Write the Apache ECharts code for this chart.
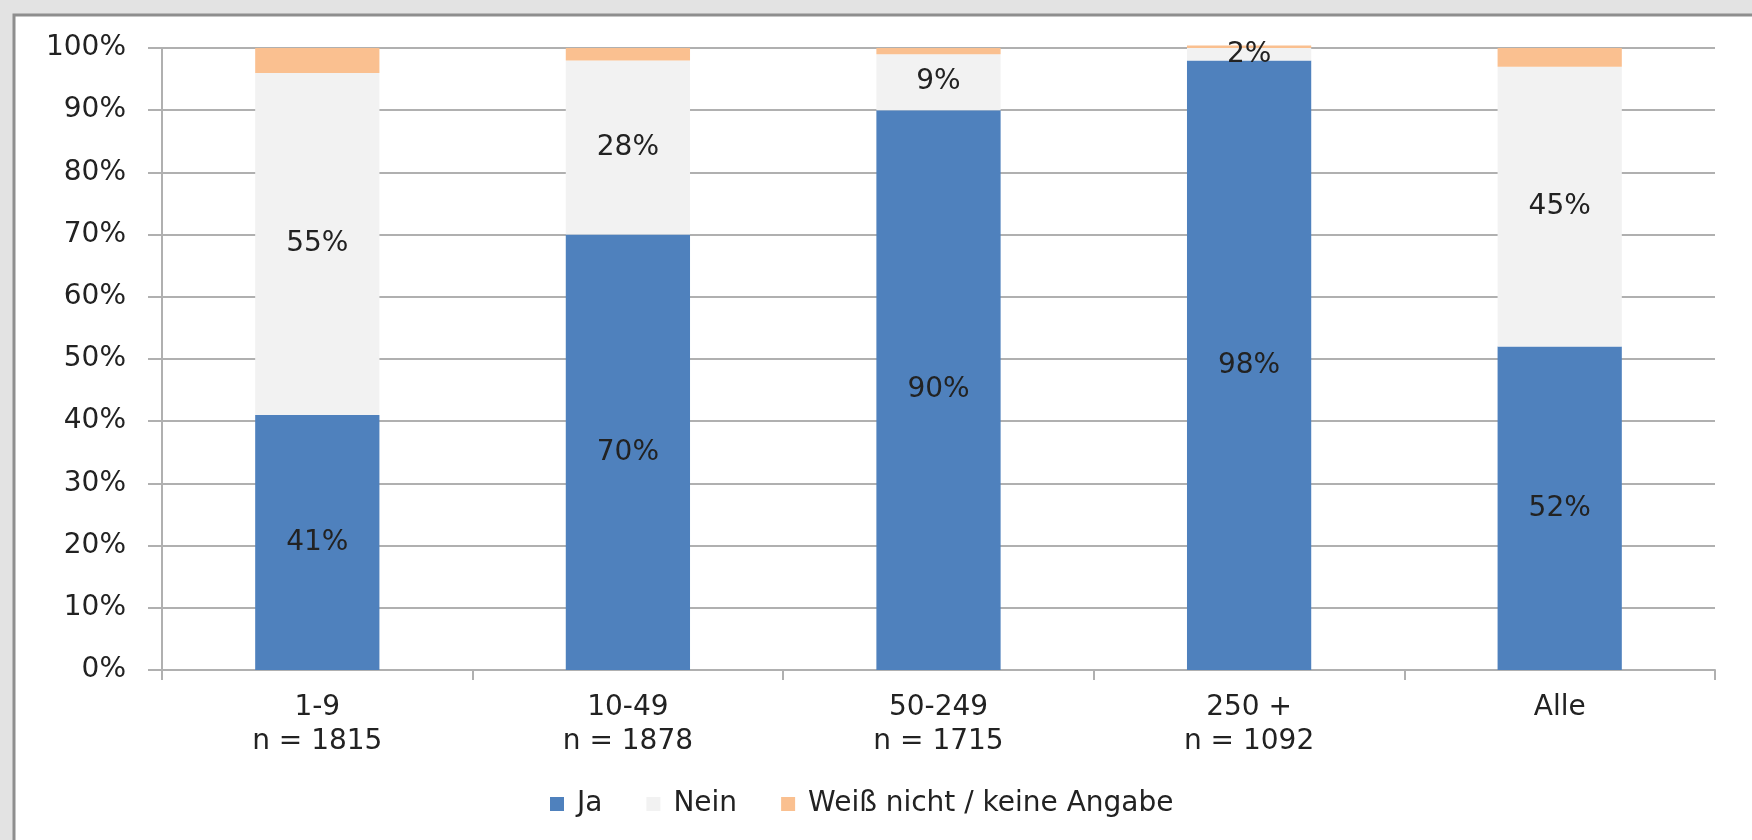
<!DOCTYPE html>
<html>
<head>
<meta charset="utf-8">
<script src="https://cdn.jsdelivr.net/npm/echarts@6/dist/echarts.min.js"></script>
<style>
  html, body { margin: 0; padding: 0; background: #e3e3e3; }
  #chart { width: 1752px; height: 840px; }
</style>
</head>
<body>
<div id="chart"></div>
<script>
// Company size classes and their sample sizes
const categories = ['1-9', '10-49', '50-249', '250 +', 'Alle'];
const sampleSizes = [1815, 1878, 1715, 1092, null];

// Answer shares in percent
const ja = [41, 70, 90, 98, 52];
const nein = [55, 28, 9, 2, 45];
const unbekannt = [4, 2, 1, 0.4, 3];

// Axis ticks
const yTicks = [0, 10, 20, 30, 40, 50, 60, 70, 80, 90, 100];

const FONT = 'DejaVu Sans';
const FONT_SIZE = 28;
const TEXT = '#222222';
const GRID = '#b0b0b0';

const chart = echarts.init(document.getElementById('chart'), null, { renderer: 'canvas' });

const axisLabels = categories.map((c, i) =>
  sampleSizes[i] != null ? c + '\nn = ' + sampleSizes[i] : c);

function labelFor(show) {
  return {
    show: show,
    position: 'inside',
    color: TEXT,
    fontFamily: FONT,
    fontSize: FONT_SIZE,
    formatter: p => p.value + '%'
  };
}

chart.setOption({
  backgroundColor: '#e3e3e3',
  animation: false,
  graphic: [{
    type: 'rect',
    z: -10,
    silent: true,
    shape: { x: 14, y: 15, width: 1760, height: 840 },
    style: { fill: '#ffffff', stroke: '#8e8e8e', lineWidth: 3 }
  }],
  grid: { left: 162, right: 37, top: 48, bottom: 170, containLabel: false },
  legend: {
    left: 545,
    top: 785,
    itemWidth: 14,
    itemHeight: 14,
    itemGap: 44,
    icon: 'rect',
    textStyle: { color: TEXT, fontFamily: FONT, fontSize: FONT_SIZE, padding: [0, 0, 0, 8] },
    data: ['Ja', 'Nein', 'Weiß nicht / keine Angabe']
  },
  xAxis: {
    type: 'category',
    data: axisLabels,
    axisLine: { lineStyle: { color: GRID, width: 2 } },
    axisTick: { show: true, length: 10, lineStyle: { color: GRID, width: 2 } },
    axisLabel: {
      color: TEXT, fontFamily: FONT, fontSize: FONT_SIZE, lineHeight: 34, margin: 21
    }
  },
  yAxis: {
    type: 'value',
    min: 0,
    max: 100,
    interval: 10,
    axisLine: { show: true, lineStyle: { color: GRID, width: 2 } },
    axisTick: { show: true, length: 14, lineStyle: { color: GRID, width: 2 } },
    splitLine: { lineStyle: { color: GRID, width: 2 } },
    axisLabel: {
      color: TEXT, fontFamily: FONT, fontSize: FONT_SIZE, margin: 36,
      formatter: v => (yTicks.includes(v) ? v + '%' : '')
    }
  },
  series: [
    {
      name: 'Ja', type: 'bar', stack: 'total', barWidth: '40%', clip: false,
      itemStyle: { color: '#4f81bd' }, label: labelFor(true), data: ja
    },
    {
      name: 'Nein', type: 'bar', stack: 'total', barWidth: '40%', clip: false,
      itemStyle: { color: '#f2f2f2' }, label: labelFor(true), data: nein
    },
    {
      name: 'Weiß nicht / keine Angabe', type: 'bar', stack: 'total', barWidth: '40%', clip: false,
      itemStyle: { color: '#fac090' }, label: labelFor(false), data: unbekannt
    }
  ]
});
</script>
</body>
</html>
